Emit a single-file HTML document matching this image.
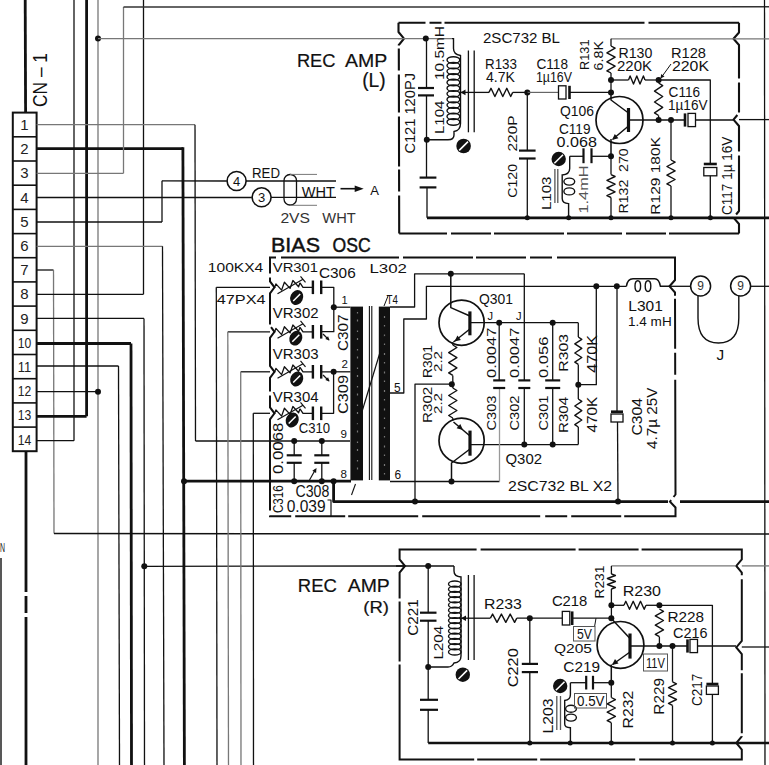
<!DOCTYPE html>
<html><head><meta charset="utf-8"><style>
html,body{margin:0;padding:0;background:#fff;}
svg{display:block;}
text{font-family:"Liberation Sans",sans-serif;}
</style></head><body>
<svg width="769" height="765" viewBox="0 0 769 765">
<rect width="769" height="765" fill="#fff"/>
<line x1="25.2" y1="0.0" x2="25.6" y2="112.5" stroke="#111" stroke-width="2.8"/>
<line x1="26.0" y1="451.0" x2="26.0" y2="765.0" stroke="#111" stroke-width="2.8" stroke-dasharray="141 4 17 4 200"/>
<rect x="12.8" y="112.6" width="23.8" height="338.6" fill="#fff" stroke="#111" stroke-width="2"/>
<line x1="12.8" y1="136.8" x2="36.6" y2="136.8" stroke="#111" stroke-width="1.6"/>
<line x1="12.8" y1="161.0" x2="36.6" y2="161.0" stroke="#111" stroke-width="1.6"/>
<line x1="12.8" y1="185.2" x2="36.6" y2="185.2" stroke="#111" stroke-width="1.6"/>
<line x1="12.8" y1="209.4" x2="36.6" y2="209.4" stroke="#111" stroke-width="1.6"/>
<line x1="12.8" y1="233.6" x2="36.6" y2="233.6" stroke="#111" stroke-width="1.6"/>
<line x1="12.8" y1="257.7" x2="36.6" y2="257.7" stroke="#111" stroke-width="1.6"/>
<line x1="12.8" y1="281.9" x2="36.6" y2="281.9" stroke="#111" stroke-width="1.6"/>
<line x1="12.8" y1="306.1" x2="36.6" y2="306.1" stroke="#111" stroke-width="1.6"/>
<line x1="12.8" y1="330.3" x2="36.6" y2="330.3" stroke="#111" stroke-width="1.6"/>
<line x1="12.8" y1="354.5" x2="36.6" y2="354.5" stroke="#111" stroke-width="1.6"/>
<line x1="12.8" y1="378.7" x2="36.6" y2="378.7" stroke="#111" stroke-width="1.6"/>
<line x1="12.8" y1="402.9" x2="36.6" y2="402.9" stroke="#111" stroke-width="1.6"/>
<line x1="12.8" y1="427.1" x2="36.6" y2="427.1" stroke="#111" stroke-width="1.6"/>
<text x="24.5" y="130.0" font-size="15" text-anchor="middle" fill="#222">1</text>
<text x="24.5" y="154.2" font-size="15" text-anchor="middle" fill="#222">2</text>
<text x="24.5" y="178.4" font-size="15" text-anchor="middle" fill="#222">3</text>
<text x="24.5" y="202.6" font-size="15" text-anchor="middle" fill="#222">4</text>
<text x="24.5" y="226.8" font-size="15" text-anchor="middle" fill="#222">5</text>
<text x="24.5" y="250.9" font-size="15" text-anchor="middle" fill="#222">6</text>
<text x="24.5" y="275.1" font-size="15" text-anchor="middle" fill="#222">7</text>
<text x="24.5" y="299.3" font-size="15" text-anchor="middle" fill="#222">8</text>
<text x="24.5" y="323.5" font-size="15" text-anchor="middle" fill="#222">9</text>
<text x="24.5" y="347.7" font-size="15" text-anchor="middle" fill="#222" textLength="13.5" lengthAdjust="spacingAndGlyphs">10</text>
<text x="24.5" y="371.9" font-size="15" text-anchor="middle" fill="#222" textLength="13.5" lengthAdjust="spacingAndGlyphs">11</text>
<text x="24.5" y="396.1" font-size="15" text-anchor="middle" fill="#222" textLength="13.5" lengthAdjust="spacingAndGlyphs">12</text>
<text x="24.5" y="420.3" font-size="15" text-anchor="middle" fill="#222" textLength="13.5" lengthAdjust="spacingAndGlyphs">13</text>
<text x="24.5" y="444.5" font-size="15" text-anchor="middle" fill="#222" textLength="13.5" lengthAdjust="spacingAndGlyphs">14</text>
<text transform="translate(47.0,107.0) rotate(-90)" x="0" y="0" font-size="19.55" fill="#111" textLength="54.0" lengthAdjust="spacingAndGlyphs">CN&#160;–&#160;1</text>
<line x1="74.0" y1="0.0" x2="74.0" y2="440.7" stroke="#111" stroke-width="1.3"/>
<line x1="86.6" y1="0.0" x2="86.6" y2="416.3" stroke="#111" stroke-width="2.8"/>
<line x1="98.0" y1="0.0" x2="98.0" y2="765.0" stroke="#777" stroke-width="1.3"/>
<circle cx="98.0" cy="38.6" r="3.0" fill="#111"/>
<circle cx="98.0" cy="391.7" r="3.0" fill="#111"/>
<line x1="143.5" y1="0.0" x2="143.5" y2="294.3" stroke="#111" stroke-width="1.3"/>
<line x1="36.6" y1="124.7" x2="195.0" y2="124.7" stroke="#777" stroke-width="1.3"/>
<line x1="195.0" y1="124.7" x2="195.5" y2="441.0" stroke="#111" stroke-width="1.3"/>
<line x1="195.5" y1="441.0" x2="350.0" y2="441.0" stroke="#111" stroke-width="1.3"/>
<line x1="36.6" y1="148.6" x2="183.0" y2="148.6" stroke="#111" stroke-width="2.8"/>
<line x1="182.9" y1="147.2" x2="184.4" y2="765.0" stroke="#111" stroke-width="2.8"/>
<line x1="36.6" y1="173.3" x2="123.5" y2="173.3" stroke="#777" stroke-width="1.3"/>
<line x1="123.5" y1="173.3" x2="123.5" y2="7.0" stroke="#777" stroke-width="1.3"/>
<line x1="123.5" y1="7.0" x2="769.0" y2="6.8" stroke="#333" stroke-width="1.5"/>
<line x1="36.6" y1="197.5" x2="251.8" y2="197.5" stroke="#111" stroke-width="1.3"/>
<line x1="36.6" y1="222.0" x2="162.0" y2="222.0" stroke="#111" stroke-width="1.5"/>
<line x1="162.0" y1="222.0" x2="162.0" y2="180.8" stroke="#111" stroke-width="1.3"/>
<line x1="162.0" y1="180.8" x2="226.8" y2="181.0" stroke="#111" stroke-width="1.3"/>
<line x1="36.6" y1="246.3" x2="162.5" y2="246.3" stroke="#777" stroke-width="1.3"/>
<line x1="162.5" y1="246.3" x2="164.0" y2="765.0" stroke="#111" stroke-width="1.3"/>
<line x1="36.6" y1="270.0" x2="53.5" y2="270.0" stroke="#111" stroke-width="1.3"/>
<line x1="53.5" y1="270.0" x2="54.0" y2="533.6" stroke="#777" stroke-width="1.3"/>
<line x1="54.0" y1="533.6" x2="769.0" y2="534.0" stroke="#111" stroke-width="1.5"/>
<line x1="36.6" y1="294.3" x2="143.5" y2="294.3" stroke="#111" stroke-width="1.3"/>
<line x1="36.6" y1="318.4" x2="144.0" y2="318.4" stroke="#111" stroke-width="1.3"/>
<line x1="144.0" y1="318.4" x2="144.5" y2="765.0" stroke="#111" stroke-width="1.3"/>
<circle cx="144.3" cy="566.3" r="3.0" fill="#111"/>
<line x1="36.6" y1="343.5" x2="131.0" y2="343.5" stroke="#111" stroke-width="2.8"/>
<line x1="131.0" y1="343.5" x2="131.5" y2="765.0" stroke="#111" stroke-width="2.8"/>
<line x1="36.6" y1="366.0" x2="118.5" y2="366.0" stroke="#111" stroke-width="1.3"/>
<line x1="118.5" y1="366.0" x2="119.5" y2="765.0" stroke="#111" stroke-width="1.3"/>
<line x1="36.6" y1="391.7" x2="98.0" y2="391.7" stroke="#111" stroke-width="1.3"/>
<line x1="36.6" y1="416.3" x2="86.6" y2="416.3" stroke="#111" stroke-width="2.8"/>
<line x1="36.6" y1="440.7" x2="74.0" y2="440.7" stroke="#111" stroke-width="1.3"/>
<line x1="1.0" y1="558.0" x2="1.0" y2="765.0" stroke="#111" stroke-width="1.4"/>
<text x="0.0" y="552.0" font-size="12.57" fill="#111" textLength="5.0" lengthAdjust="spacingAndGlyphs">N</text>
<line x1="98.0" y1="38.6" x2="404.0" y2="38.6" stroke="#777" stroke-width="1.3"/>
<line x1="144.3" y1="566.3" x2="405.0" y2="566.0" stroke="#111" stroke-width="1.3"/>
<line x1="216.3" y1="287.3" x2="270.0" y2="287.3" stroke="#111" stroke-width="1.3"/>
<line x1="216.3" y1="287.3" x2="217.0" y2="765.0" stroke="#111" stroke-width="1.3"/>
<line x1="227.8" y1="331.8" x2="270.0" y2="331.8" stroke="#111" stroke-width="1.3"/>
<line x1="227.8" y1="331.8" x2="228.5" y2="765.0" stroke="#777" stroke-width="1.3"/>
<line x1="240.7" y1="371.8" x2="270.0" y2="371.8" stroke="#111" stroke-width="1.3"/>
<line x1="240.7" y1="371.8" x2="241.0" y2="765.0" stroke="#777" stroke-width="1.3"/>
<line x1="253.3" y1="413.3" x2="270.0" y2="413.3" stroke="#111" stroke-width="1.3"/>
<line x1="253.3" y1="413.3" x2="253.5" y2="765.0" stroke="#111" stroke-width="1.3"/>
<circle cx="184.0" cy="481.2" r="3.0" fill="#111"/>
<line x1="184.0" y1="481.2" x2="351.0" y2="481.2" stroke="#111" stroke-width="2.8"/>
<line x1="764.5" y1="0.0" x2="765.0" y2="765.0" stroke="#111" stroke-width="1.3"/>
<circle cx="236.6" cy="181.0" r="9.5" fill="none" stroke="#111" stroke-width="1.6"/>
<circle cx="261.6" cy="197.3" r="9.5" fill="none" stroke="#111" stroke-width="1.6"/>
<text x="236.6" y="185.8" font-size="13" text-anchor="middle" fill="#111">4</text>
<text x="261.6" y="202" font-size="13" text-anchor="middle" fill="#111">3</text>
<line x1="246.0" y1="181.0" x2="336.0" y2="181.0" stroke="#111" stroke-width="1.3"/>
<line x1="271.0" y1="197.3" x2="336.0" y2="197.3" stroke="#111" stroke-width="1.3"/>
<rect x="284" y="174.5" width="12.5" height="30.5" rx="6" fill="none" stroke="#111" stroke-width="1.3"/>
<line x1="290.0" y1="174.4" x2="317.0" y2="174.4" stroke="#777" stroke-width="1"/>
<line x1="290.0" y1="205.3" x2="317.0" y2="205.3" stroke="#777" stroke-width="1"/>
<text x="252.0" y="177.8" font-size="13.97" fill="#111" textLength="28.0" lengthAdjust="spacingAndGlyphs">RED</text>
<text x="301.8" y="196.6" font-size="14.11" fill="#111" textLength="33.2" lengthAdjust="spacingAndGlyphs">WHT</text>
<line x1="340.5" y1="188.7" x2="355.0" y2="188.7" stroke="#111" stroke-width="1.6"/>
<polygon points="363.7,188.7 354.7,191.9 354.7,185.5" fill="#111"/>
<text x="370.3" y="194.6" font-size="12.85" fill="#111" textLength="8.7" lengthAdjust="spacingAndGlyphs">A</text>
<text x="280.4" y="222.6" font-size="14.80" fill="#333" textLength="29.6" lengthAdjust="spacingAndGlyphs">2VS</text>
<text x="322.3" y="222.6" font-size="14.80" fill="#333" textLength="33.4" lengthAdjust="spacingAndGlyphs">WHT</text>
<text x="271.0" y="252.0" font-size="19.83" fill="#111" stroke="#111" stroke-width="0.45" textLength="49.0" lengthAdjust="spacingAndGlyphs">BIAS</text>
<text x="332.6" y="252.0" font-size="19.83" fill="#111" stroke="#111" stroke-width="0.45" textLength="38.1" lengthAdjust="spacingAndGlyphs">OSC</text>
<text x="296.9" y="67.2" font-size="18.99" fill="#111" stroke="#111" stroke-width="0.2" textLength="38.6" lengthAdjust="spacingAndGlyphs">REC</text>
<text x="345.0" y="67.2" font-size="18.99" fill="#111" stroke="#111" stroke-width="0.2" textLength="42.3" lengthAdjust="spacingAndGlyphs">AMP</text>
<text x="362.2" y="86.5" font-size="19.55" fill="#111" stroke="#111" stroke-width="0.2" textLength="23.4" lengthAdjust="spacingAndGlyphs">(L)</text>
<path d="M399.2,233.5 L398.8,45 L404,38.6 L398.5,32 L398.5,22.7" fill="none" stroke="#111" stroke-width="2.1" stroke-linejoin="round" stroke-dasharray="38 4 22 3 50 4"/>
<path d="M398.5,22.7 L739,22.7" fill="none" stroke="#111" stroke-width="2.1" stroke-linejoin="round" stroke-dasharray="27 4 12 3 200 4 300"/>
<path d="M739,22.7 L739,32.5 L733.5,38.8 L739,45 L739,113 L733.5,119.6 L739,126 L739,211 L733.5,217.6 L739,224 L739,233.5" fill="none" stroke="#111" stroke-width="2.1" stroke-linejoin="round" stroke-dasharray="60 4 30 3 40 4"/>
<path d="M739,233.5 L399.2,233.5" fill="none" stroke="#111" stroke-width="2.1" stroke-linejoin="round" stroke-dasharray="70 3 40 4 55 3"/>
<line x1="398.0" y1="38.6" x2="452.0" y2="38.6" stroke="#777" stroke-width="1.3"/>
<circle cx="425.8" cy="38.6" r="3.0" fill="#111"/>
<path d="M452,38.6 L453.5,38.6 L453.5,48.5 Q453.5,54.5 460.5,55.5 L460.5,123.5 Q460.5,130.5 454,131.5 L454,135 Q454,139.8 448,139.8 L426.8,139.8" fill="none" stroke="#111" stroke-width="1.4"/>
<ellipse cx="453.4" cy="60.0" rx="6.4" ry="3.2" fill="none" stroke="#111" stroke-width="1.4"/>
<ellipse cx="453.4" cy="65.6" rx="6.4" ry="3.2" fill="none" stroke="#111" stroke-width="1.4"/>
<ellipse cx="453.4" cy="71.3" rx="6.4" ry="3.2" fill="none" stroke="#111" stroke-width="1.4"/>
<ellipse cx="453.4" cy="76.9" rx="6.4" ry="3.2" fill="none" stroke="#111" stroke-width="1.4"/>
<ellipse cx="453.4" cy="82.5" rx="6.4" ry="3.2" fill="none" stroke="#111" stroke-width="1.4"/>
<ellipse cx="453.4" cy="88.2" rx="6.4" ry="3.2" fill="none" stroke="#111" stroke-width="1.4"/>
<ellipse cx="453.4" cy="93.8" rx="6.4" ry="3.2" fill="none" stroke="#111" stroke-width="1.4"/>
<ellipse cx="453.4" cy="99.5" rx="6.4" ry="3.2" fill="none" stroke="#111" stroke-width="1.4"/>
<ellipse cx="453.4" cy="105.1" rx="6.4" ry="3.2" fill="none" stroke="#111" stroke-width="1.4"/>
<ellipse cx="453.4" cy="110.7" rx="6.4" ry="3.2" fill="none" stroke="#111" stroke-width="1.4"/>
<ellipse cx="453.4" cy="116.4" rx="6.4" ry="3.2" fill="none" stroke="#111" stroke-width="1.4"/>
<ellipse cx="453.4" cy="122.0" rx="6.4" ry="3.2" fill="none" stroke="#111" stroke-width="1.4"/>
<line x1="468.4" y1="50.5" x2="468.4" y2="132.3" stroke="#111" stroke-width="1.3"/>
<line x1="474.2" y1="50.5" x2="474.2" y2="132.3" stroke="#111" stroke-width="1.3"/>
<line x1="459.0" y1="92.4" x2="489.0" y2="92.4" stroke="#111" stroke-width="1.3"/>
<polygon points="460.5,92.4 465.5,89.6 465.5,95.2" fill="#111"/>
<circle cx="463.6" cy="146.0" r="7.3" fill="#111"/>
<line x1="459.2" y1="150.4" x2="468.0" y2="141.6" stroke="#fff" stroke-width="1.6"/>
<text transform="translate(443.5,80.0) rotate(-90)" x="0" y="0" font-size="13.27" fill="#111" textLength="54.0" lengthAdjust="spacingAndGlyphs">10.5mH</text>
<text transform="translate(443.5,134.0) rotate(-90)" x="0" y="0" font-size="12.57" fill="#111" textLength="33.5" lengthAdjust="spacingAndGlyphs">L104</text>
<text transform="translate(415.0,153.6) rotate(-90)" x="0" y="0" font-size="15.36" fill="#111" textLength="80.6" lengthAdjust="spacingAndGlyphs">C121&#160;120PJ</text>
<line x1="426.5" y1="38.6" x2="426.5" y2="88.0" stroke="#111" stroke-width="1.3"/>
<line x1="418.0" y1="88.0" x2="434.0" y2="88.0" stroke="#111" stroke-width="2.2"/>
<line x1="418.0" y1="95.4" x2="434.0" y2="95.4" stroke="#111" stroke-width="2.2"/>
<line x1="426.5" y1="95.4" x2="426.5" y2="177.6" stroke="#111" stroke-width="1.3"/>
<circle cx="426.8" cy="139.8" r="3.0" fill="#111"/>
<line x1="419.6" y1="177.6" x2="436.4" y2="177.6" stroke="#111" stroke-width="2.2"/>
<line x1="419.6" y1="187.4" x2="436.4" y2="187.4" stroke="#111" stroke-width="2.2"/>
<line x1="427.0" y1="187.4" x2="427.0" y2="217.8" stroke="#111" stroke-width="1.3"/>
<line x1="427.0" y1="217.8" x2="769.0" y2="217.8" stroke="#111" stroke-width="2.8"/>
<circle cx="527.3" cy="217.8" r="2.5" fill="#111"/>
<circle cx="568.7" cy="217.8" r="2.5" fill="#111"/>
<circle cx="611.0" cy="217.8" r="2.5" fill="#111"/>
<circle cx="671.0" cy="217.8" r="2.5" fill="#111"/>
<circle cx="710.4" cy="217.8" r="2.5" fill="#111"/>
<polyline points="489.0,92.4 491.0,88.3 494.9,96.5 498.9,88.3 502.8,96.5 506.8,88.3 510.7,96.5 512.7,92.4" fill="none" stroke="#111" stroke-width="1.4" stroke-linejoin="round"/>
<line x1="512.7" y1="92.4" x2="527.3" y2="92.4" stroke="#111" stroke-width="1.3"/>
<circle cx="527.3" cy="92.4" r="3.0" fill="#111"/>
<line x1="527.3" y1="92.4" x2="559.0" y2="92.4" stroke="#666" stroke-width="1.2"/>
<rect x="558.5" y="85.8" width="7.5" height="13.2" fill="#fff" stroke="#111" stroke-width="1.3"/>
<line x1="569.5" y1="85.8" x2="569.5" y2="99.0" stroke="#111" stroke-width="2.6"/>
<line x1="569.0" y1="92.4" x2="611.0" y2="92.4" stroke="#111" stroke-width="1.3"/>
<text x="485.0" y="69.0" font-size="15.36" fill="#111" textLength="32.0" lengthAdjust="spacingAndGlyphs">R133</text>
<text x="486.0" y="81.6" font-size="14.80" fill="#111" textLength="29.0" lengthAdjust="spacingAndGlyphs">4.7K</text>
<text x="536.5" y="69.0" font-size="15.36" fill="#111" textLength="31.5" lengthAdjust="spacingAndGlyphs">C118</text>
<text x="536.0" y="82.0" font-size="15.36" fill="#111" textLength="36.0" lengthAdjust="spacingAndGlyphs">1µ16V</text>
<text x="483.0" y="42.7" font-size="14.94" fill="#111" textLength="77.0" lengthAdjust="spacingAndGlyphs">2SC732 BL</text>
<line x1="527.3" y1="92.4" x2="527.3" y2="150.6" stroke="#111" stroke-width="1.3"/>
<line x1="519.0" y1="150.6" x2="535.6" y2="150.6" stroke="#111" stroke-width="2.2"/>
<line x1="519.0" y1="158.5" x2="535.6" y2="158.5" stroke="#111" stroke-width="2.2"/>
<line x1="527.3" y1="158.5" x2="527.3" y2="217.8" stroke="#111" stroke-width="1.3"/>
<text transform="translate(516.5,151.5) rotate(-90)" x="0" y="0" font-size="12.57" fill="#111" textLength="36.0" lengthAdjust="spacingAndGlyphs">220P</text>
<text transform="translate(516.8,197.8) rotate(-90)" x="0" y="0" font-size="13.69" fill="#111" textLength="33.8" lengthAdjust="spacingAndGlyphs">C120</text>
<circle cx="619.5" cy="120.0" r="23.5" fill="none" stroke="#111" stroke-width="1.7"/>
<line x1="628.5" y1="108.0" x2="628.5" y2="132.0" stroke="#111" stroke-width="3.2"/>
<polyline points="628.5,113.0 611.0,100.0 611.0,92.4" fill="none" stroke="#111" stroke-width="1.5" stroke-linejoin="round"/>
<line x1="628.5" y1="126.0" x2="613.0" y2="139.0" stroke="#111" stroke-width="1.5"/>
<polygon points="612.0,140.0 614.8,134.0 618.4,138.2" fill="#111"/>
<line x1="611.0" y1="139.0" x2="611.0" y2="156.3" stroke="#111" stroke-width="1.5"/>
<circle cx="611.0" cy="92.4" r="3.0" fill="#111"/>
<circle cx="611.0" cy="156.3" r="3.0" fill="#111"/>
<text x="560.0" y="115.5" font-size="14.66" fill="#111" textLength="34.0" lengthAdjust="spacingAndGlyphs">Q106</text>
<line x1="611.0" y1="38.8" x2="769.0" y2="38.8" stroke="#777" stroke-width="1.3"/>
<line x1="611.0" y1="38.8" x2="611.0" y2="46.0" stroke="#111" stroke-width="1.3"/>
<polyline points="611.0,46.0 615.1,48.2 606.9,52.8 615.1,57.2 606.9,61.8 615.1,66.2 606.9,70.8 611.0,73.0" fill="none" stroke="#111" stroke-width="1.4" stroke-linejoin="round"/>
<line x1="611.0" y1="73.0" x2="611.0" y2="92.4" stroke="#111" stroke-width="1.3"/>
<circle cx="611.0" cy="80.0" r="3.0" fill="#111"/>
<text transform="translate(588.5,70.0) rotate(-90)" x="0" y="0" font-size="11.87" fill="#111" textLength="30.5" lengthAdjust="spacingAndGlyphs">R131</text>
<text transform="translate(603.0,70.5) rotate(-90)" x="0" y="0" font-size="12.57" fill="#111" textLength="29.5" lengthAdjust="spacingAndGlyphs">6.8K</text>
<line x1="611.0" y1="80.0" x2="628.5" y2="80.0" stroke="#111" stroke-width="1.3"/>
<polyline points="628.5,80.0 630.1,76.0 633.5,84.0 636.8,76.0 640.0,84.0 643.4,76.0 645.0,80.0" fill="none" stroke="#111" stroke-width="1.4" stroke-linejoin="round"/>
<line x1="645.0" y1="80.0" x2="658.6" y2="80.0" stroke="#111" stroke-width="1.3"/>
<circle cx="658.6" cy="80.0" r="3.0" fill="#111"/>
<polyline points="658.6,80.0 710.3,80.0 710.3,164.0" fill="none" stroke="#111" stroke-width="1.3" stroke-linejoin="round"/>
<text x="618.4" y="57.7" font-size="13.97" fill="#111" textLength="33.9" lengthAdjust="spacingAndGlyphs">R130</text>
<text x="617.0" y="71.0" font-size="13.97" fill="#111" textLength="35.0" lengthAdjust="spacingAndGlyphs">220K</text>
<text x="671.0" y="57.7" font-size="13.97" fill="#111" textLength="35.0" lengthAdjust="spacingAndGlyphs">R128</text>
<text x="672.0" y="71.0" font-size="13.97" fill="#111" textLength="37.0" lengthAdjust="spacingAndGlyphs">220K</text>
<line x1="671.0" y1="64.0" x2="662.0" y2="76.5" stroke="#111" stroke-width="1"/>
<polygon points="660.5,78.5 661.2,74.1 664.5,76.4" fill="#111"/>
<polyline points="658.6,83.0 662.7,85.7 654.5,91.1 662.7,96.5 654.5,102.0 662.7,107.4 654.5,112.8 658.6,115.5" fill="none" stroke="#111" stroke-width="1.4" stroke-linejoin="round"/>
<line x1="658.6" y1="80.0" x2="658.6" y2="83.0" stroke="#111" stroke-width="1.3"/>
<line x1="658.6" y1="115.5" x2="658.6" y2="120.0" stroke="#111" stroke-width="1.3"/>
<circle cx="658.6" cy="120.0" r="3.0" fill="#111"/>
<line x1="628.5" y1="120.0" x2="685.0" y2="120.0" stroke="#111" stroke-width="1.3"/>
<circle cx="671.0" cy="120.0" r="3.0" fill="#111"/>
<rect x="688.0" y="113.4" width="7.5" height="13.2" fill="#fff" stroke="#111" stroke-width="1.3"/>
<line x1="685.0" y1="113.4" x2="685.0" y2="126.6" stroke="#111" stroke-width="2.6"/>
<line x1="695.0" y1="120.0" x2="733.0" y2="120.0" stroke="#111" stroke-width="1.3"/>
<line x1="739.0" y1="119.6" x2="769.0" y2="119.6" stroke="#111" stroke-width="1.3"/>
<text x="668.6" y="96.6" font-size="13.97" fill="#111" textLength="31.4" lengthAdjust="spacingAndGlyphs">C116</text>
<text x="668.0" y="110.0" font-size="13.97" fill="#111" textLength="39.5" lengthAdjust="spacingAndGlyphs">1µ16V</text>
<line x1="671.0" y1="120.0" x2="671.0" y2="160.0" stroke="#111" stroke-width="1.3"/>
<polyline points="671.0,160.0 675.1,162.2 666.9,166.5 675.1,170.8 666.9,175.2 675.1,179.5 666.9,183.8 671.0,186.0" fill="none" stroke="#111" stroke-width="1.4" stroke-linejoin="round"/>
<line x1="671.0" y1="186.0" x2="671.0" y2="217.8" stroke="#111" stroke-width="1.3"/>
<text transform="translate(660.0,214.7) rotate(-90)" x="0" y="0" font-size="12.57" fill="#111" textLength="77.7" lengthAdjust="spacingAndGlyphs">R129&#160;180K</text>
<line x1="703.8" y1="164.0" x2="716.8" y2="164.0" stroke="#111" stroke-width="2.6"/>
<rect x="703.8" y="167.5" width="13.0" height="8.3" fill="#fff" stroke="#111" stroke-width="1.3"/>
<line x1="710.3" y1="175.8" x2="710.3" y2="217.8" stroke="#111" stroke-width="1.3"/>
<text transform="translate(732.0,215.0) rotate(-90)" x="0" y="0" font-size="14.80" fill="#111" textLength="78.4" lengthAdjust="spacingAndGlyphs">C117&#160;1µ&#160;16V</text>
<polyline points="611.0,174.6 615.1,176.5 606.9,180.3 615.1,184.1 606.9,188.0 615.1,191.8 606.9,195.6 611.0,197.5" fill="none" stroke="#111" stroke-width="1.4" stroke-linejoin="round"/>
<line x1="611.0" y1="156.3" x2="611.0" y2="174.6" stroke="#111" stroke-width="1.3"/>
<line x1="611.0" y1="197.5" x2="611.0" y2="217.8" stroke="#111" stroke-width="1.3"/>
<text transform="translate(628.0,213.5) rotate(-90)" x="0" y="0" font-size="12.57" fill="#111" textLength="65.2" lengthAdjust="spacingAndGlyphs">R132&#160;&#160;270</text>
<line x1="611.0" y1="156.3" x2="591.5" y2="156.3" stroke="#111" stroke-width="1.3"/>
<line x1="591.5" y1="148.3" x2="591.5" y2="163.2" stroke="#111" stroke-width="2.2"/>
<line x1="583.5" y1="148.3" x2="583.5" y2="163.2" stroke="#111" stroke-width="2.2"/>
<polyline points="583.5,156.3 569.7,156.3" fill="none" stroke="#111" stroke-width="1.3" stroke-linejoin="round"/>
<path d="M569.7,156.3 L569.7,168.6 Q569.7,174.5 562.2,175 L562.2,198.5 Q562.2,203.4 568.6,203.6 L568.6,217.8" fill="none" stroke="#111" stroke-width="1.4"/>
<ellipse cx="569.3" cy="181.6" rx="5.4" ry="3.5" fill="none" stroke="#111" stroke-width="1.4"/>
<ellipse cx="569.3" cy="191.4" rx="5.4" ry="3.5" fill="none" stroke="#111" stroke-width="1.4"/>
<text x="559.0" y="134.0" font-size="13.97" fill="#111" textLength="31.5" lengthAdjust="spacingAndGlyphs">C119</text>
<text x="556.6" y="147.0" font-size="13.97" fill="#111" textLength="40.4" lengthAdjust="spacingAndGlyphs">0.068</text>
<line x1="554.9" y1="169.0" x2="554.9" y2="203.0" stroke="#555" stroke-width="1.3"/>
<line x1="557.8" y1="169.0" x2="557.8" y2="203.0" stroke="#555" stroke-width="1.3"/>
<circle cx="558.7" cy="159.0" r="7.2" fill="#111"/>
<line x1="554.4" y1="163.3" x2="563.0" y2="154.7" stroke="#fff" stroke-width="1.6"/>
<text transform="translate(588.0,213.5) rotate(-90)" x="0" y="0" font-size="12.57" fill="#555" textLength="48.0" lengthAdjust="spacingAndGlyphs">1.4mH</text>
<text transform="translate(550.6,210.0) rotate(-90)" x="0" y="0" font-size="12.01" fill="#111" textLength="33.5" lengthAdjust="spacingAndGlyphs">L103</text>
<path d="M675,257.5 L270,257.5 L270,281.3 L274.5,287.3 L270,293.3 L270,325.8 L274.5,331.8 L270,337.8 L270,365.8 L274.5,371.8 L270,377.8 L270,407.3 L274.5,413.3 L270,419.3 L270,516.3 L675.5,516.3 L675.5,507.5 L670,501.6 L675.5,494.5 L675,292.5 L669.5,286.3 L675,280 Z" fill="none" stroke="#111" stroke-width="2.0" stroke-dasharray="118 5 22 4 50 3 70 4"/>
<text x="207.8" y="272.2" font-size="12.43" fill="#111" textLength="55.5" lengthAdjust="spacingAndGlyphs">100KX4</text>
<text x="216.7" y="304.4" font-size="12.29" fill="#111" textLength="48.9" lengthAdjust="spacingAndGlyphs">47PX4</text>
<text x="272.8" y="272.3" font-size="12.57" fill="#111" textLength="45.2" lengthAdjust="spacingAndGlyphs">VR301</text>
<text x="319.0" y="278.0" font-size="13.97" fill="#111" textLength="36.7" lengthAdjust="spacingAndGlyphs">C306</text>
<text x="369.5" y="273.0" font-size="12.57" fill="#111" textLength="37.5" lengthAdjust="spacingAndGlyphs">L302</text>
<text x="272.8" y="317.6" font-size="14.53" fill="#111" textLength="45.8" lengthAdjust="spacingAndGlyphs">VR302</text>
<text x="272.8" y="359.4" font-size="14.53" fill="#111" textLength="45.8" lengthAdjust="spacingAndGlyphs">VR303</text>
<text x="272.8" y="401.6" font-size="14.53" fill="#111" textLength="45.8" lengthAdjust="spacingAndGlyphs">VR304</text>
<polyline points="274.5,287.8 275.9,283.9 281.6,290.1 284.4,282.2 290.1,288.4 292.9,280.5 298.6,286.7 300.0,282.8" fill="none" stroke="#111" stroke-width="1.3" stroke-linejoin="round"/>
<polyline points="300.0,282.8 303.0,287.3 312.9,287.3" fill="none" stroke="#111" stroke-width="1.3" stroke-linejoin="round"/>
<line x1="277.5" y1="293.8" x2="303.0" y2="279.3" stroke="#111" stroke-width="1.2"/>
<line x1="300.5" y1="276.3" x2="305.5" y2="282.3" stroke="#111" stroke-width="1.2"/>
<ellipse cx="296.7" cy="297.5" rx="6.3" ry="7.6" transform="rotate(25 296.7 297.5)" fill="#111"/>
<line x1="293.2" y1="301.0" x2="300.2" y2="294.0" stroke="#fff" stroke-width="1.5"/>
<line x1="312.9" y1="280.5" x2="312.9" y2="294.1" stroke="#111" stroke-width="2.4"/>
<line x1="321.2" y1="280.5" x2="321.2" y2="294.1" stroke="#111" stroke-width="2.4"/>
<polyline points="274.5,332.3 275.9,328.4 281.6,334.6 284.4,326.7 290.1,332.9 292.9,325.0 298.6,331.2 300.0,327.3" fill="none" stroke="#111" stroke-width="1.3" stroke-linejoin="round"/>
<polyline points="300.0,327.3 303.0,331.8 312.9,331.8" fill="none" stroke="#111" stroke-width="1.3" stroke-linejoin="round"/>
<line x1="277.5" y1="338.3" x2="303.0" y2="323.8" stroke="#111" stroke-width="1.2"/>
<line x1="300.5" y1="320.8" x2="305.5" y2="326.8" stroke="#111" stroke-width="1.2"/>
<ellipse cx="295.8" cy="338.2" rx="6.3" ry="7.6" transform="rotate(25 295.8 338.2)" fill="#111"/>
<line x1="292.3" y1="341.7" x2="299.3" y2="334.7" stroke="#fff" stroke-width="1.5"/>
<line x1="312.9" y1="325.0" x2="312.9" y2="338.6" stroke="#111" stroke-width="2.4"/>
<line x1="321.2" y1="325.0" x2="321.2" y2="338.6" stroke="#111" stroke-width="2.4"/>
<polyline points="274.5,372.3 275.9,368.4 281.6,374.6 284.4,366.7 290.1,372.9 292.9,365.0 298.6,371.2 300.0,367.3" fill="none" stroke="#111" stroke-width="1.3" stroke-linejoin="round"/>
<polyline points="300.0,367.3 303.0,371.8 312.9,371.8" fill="none" stroke="#111" stroke-width="1.3" stroke-linejoin="round"/>
<line x1="277.5" y1="378.3" x2="303.0" y2="363.8" stroke="#111" stroke-width="1.2"/>
<line x1="300.5" y1="360.8" x2="305.5" y2="366.8" stroke="#111" stroke-width="1.2"/>
<ellipse cx="296.7" cy="379" rx="6.3" ry="7.6" transform="rotate(25 296.7 379)" fill="#111"/>
<line x1="293.2" y1="382.5" x2="300.2" y2="375.5" stroke="#fff" stroke-width="1.5"/>
<line x1="312.9" y1="365.0" x2="312.9" y2="378.6" stroke="#111" stroke-width="2.4"/>
<line x1="321.2" y1="365.0" x2="321.2" y2="378.6" stroke="#111" stroke-width="2.4"/>
<polyline points="274.5,413.8 275.9,409.9 281.6,416.1 284.4,408.2 290.1,414.4 292.9,406.5 298.6,412.7 300.0,408.8" fill="none" stroke="#111" stroke-width="1.3" stroke-linejoin="round"/>
<polyline points="300.0,408.8 303.0,413.3 312.9,413.3" fill="none" stroke="#111" stroke-width="1.3" stroke-linejoin="round"/>
<line x1="277.5" y1="419.8" x2="303.0" y2="405.3" stroke="#111" stroke-width="1.2"/>
<line x1="300.5" y1="402.3" x2="305.5" y2="408.3" stroke="#111" stroke-width="1.2"/>
<ellipse cx="292.2" cy="420" rx="6.3" ry="7.6" transform="rotate(25 292.2 420)" fill="#111"/>
<line x1="288.7" y1="423.5" x2="295.7" y2="416.5" stroke="#fff" stroke-width="1.5"/>
<line x1="312.9" y1="406.5" x2="312.9" y2="420.1" stroke="#111" stroke-width="2.4"/>
<line x1="321.2" y1="406.5" x2="321.2" y2="420.1" stroke="#111" stroke-width="2.4"/>
<polyline points="321.2,287.3 333.8,287.3 333.8,331.7 321.2,331.7" fill="none" stroke="#111" stroke-width="1.3" stroke-linejoin="round"/>
<circle cx="333.8" cy="307.2" r="3.0" fill="#111"/>
<line x1="333.8" y1="307.2" x2="350.4" y2="307.2" stroke="#111" stroke-width="1.3"/>
<polyline points="321.2,371.8 333.6,371.8 333.6,413.3 321.2,413.3" fill="none" stroke="#111" stroke-width="1.3" stroke-linejoin="round"/>
<circle cx="333.6" cy="371.8" r="3.0" fill="#111"/>
<line x1="333.6" y1="371.8" x2="350.4" y2="371.8" stroke="#111" stroke-width="1.3"/>
<line x1="323.0" y1="334.0" x2="329.0" y2="340.0" stroke="#111" stroke-width="1.2"/>
<polygon points="329.5,340.5 325.3,339.1 328.1,336.3" fill="#111"/>
<line x1="323.0" y1="375.0" x2="329.0" y2="381.0" stroke="#111" stroke-width="1.2"/>
<polygon points="329.5,381.5 325.3,380.1 328.1,377.3" fill="#111"/>
<text transform="translate(348.0,351.0) rotate(-90)" x="0" y="0" font-size="14.80" fill="#111" textLength="36.5" lengthAdjust="spacingAndGlyphs">C307</text>
<text transform="translate(348.0,414.0) rotate(-90)" x="0" y="0" font-size="14.80" fill="#111" textLength="39.0" lengthAdjust="spacingAndGlyphs">C309</text>
<text x="298.7" y="432.7" font-size="14.25" fill="#111" textLength="31.3" lengthAdjust="spacingAndGlyphs">C310</text>
<rect x="350.4" y="306.6" width="12.6" height="173.8" fill="#111"/>
<rect x="378.8" y="306.6" width="11.2" height="173.8" fill="#111"/>
<line x1="357.5" y1="312" x2="357.5" y2="476" stroke="#777" stroke-width="1.2" stroke-dasharray="1.5 6 2 9"/>
<line x1="384.5" y1="316" x2="384.5" y2="476" stroke="#777" stroke-width="1.2" stroke-dasharray="2 7 1.5 8"/>
<line x1="369.4" y1="306.0" x2="369.4" y2="480.0" stroke="#111" stroke-width="1.1"/>
<line x1="371.8" y1="306.0" x2="371.8" y2="480.0" stroke="#111" stroke-width="1.1"/>
<line x1="357.0" y1="428.0" x2="385.0" y2="336.0" stroke="#111" stroke-width="1.2"/>
<line x1="351.5" y1="495.0" x2="355.5" y2="484.0" stroke="#111" stroke-width="1.1"/>
<line x1="384.0" y1="306.0" x2="388.0" y2="296.0" stroke="#111" stroke-width="1.0"/>
<text x="341.5" y="304.0" font-size="11.17" fill="#111">1</text>
<text x="341.5" y="367.8" font-size="11.59" fill="#111">2</text>
<text x="340.5" y="437.8" font-size="11.59" fill="#111">9</text>
<text x="340.5" y="477.8" font-size="11.59" fill="#111">8</text>
<text x="386.6" y="303.5" font-size="11.87" fill="#111" textLength="11.4" lengthAdjust="spacingAndGlyphs">T4</text>
<text x="394.0" y="391.5" font-size="11.87" fill="#111">5</text>
<text x="394.5" y="478.5" font-size="11.87" fill="#111">6</text>
<polyline points="390.0,307.0 414.6,307.0 414.6,273.8 524.3,273.8" fill="none" stroke="#111" stroke-width="1.3" stroke-linejoin="round"/>
<circle cx="450.8" cy="273.8" r="3.0" fill="#111"/>
<polyline points="390.0,393.0 403.8,393.0 403.8,319.0 426.4,319.0 426.4,286.3 626.4,286.3" fill="none" stroke="#111" stroke-width="1.3" stroke-linejoin="round"/>
<path d="M626.4,286.3 Q627.5,278.8 633,278.8 L654.8,278.8 Q659,278.8 660.4,286.3 L669.5,286.3" fill="none" stroke="#111" stroke-width="1.4"/>
<line x1="669.5" y1="286.3" x2="690.6" y2="286.3" stroke="#111" stroke-width="1.3"/>
<circle cx="294.2" cy="441.0" r="3.0" fill="#111"/>
<circle cx="321.8" cy="441.0" r="3.0" fill="#111"/>
<line x1="294.2" y1="441.0" x2="294.2" y2="455.3" stroke="#111" stroke-width="1.3"/>
<line x1="286.7" y1="455.3" x2="301.7" y2="455.3" stroke="#111" stroke-width="2.2"/>
<line x1="286.7" y1="462.8" x2="301.7" y2="462.8" stroke="#111" stroke-width="2.2"/>
<line x1="294.2" y1="462.8" x2="294.2" y2="481.2" stroke="#111" stroke-width="1.3"/>
<circle cx="294.2" cy="481.2" r="3.0" fill="#111"/>
<line x1="321.8" y1="441.0" x2="321.8" y2="455.3" stroke="#111" stroke-width="1.3"/>
<line x1="314.3" y1="455.3" x2="329.3" y2="455.3" stroke="#111" stroke-width="2.2"/>
<line x1="314.3" y1="462.8" x2="329.3" y2="462.8" stroke="#111" stroke-width="2.2"/>
<line x1="321.8" y1="462.8" x2="321.8" y2="481.2" stroke="#111" stroke-width="1.3"/>
<circle cx="321.8" cy="481.2" r="3.0" fill="#111"/>
<line x1="309.5" y1="480.0" x2="315.5" y2="469.5" stroke="#111" stroke-width="1.2"/>
<polygon points="316.5,468.0 316.1,473.0 312.3,470.8" fill="#111"/>
<circle cx="333.6" cy="481.2" r="3.0" fill="#111"/>
<polyline points="333.6,481.2 333.6,501.6 668.0,501.6" fill="none" stroke="#111" stroke-width="2.8" stroke-linejoin="round"/>
<line x1="680.0" y1="501.6" x2="769.0" y2="501.6" stroke="#111" stroke-width="2.8"/>
<text transform="translate(283.0,474.0) rotate(-90)" x="0" y="0" font-size="13.97" fill="#111" textLength="51.3" lengthAdjust="spacingAndGlyphs">0.0068</text>
<text transform="translate(283.0,513.0) rotate(-90)" x="0" y="0" font-size="13.97" fill="#111" textLength="27.6" lengthAdjust="spacingAndGlyphs">C316</text>
<text x="295.5" y="496.7" font-size="15.78" fill="#111" textLength="33.8" lengthAdjust="spacingAndGlyphs">C308</text>
<text x="286.7" y="511.8" font-size="15.78" fill="#111" textLength="38.9" lengthAdjust="spacingAndGlyphs">0.039</text>
<polyline points="327.5,500.0 331.0,500.0 331.0,516.8" fill="none" stroke="#111" stroke-width="1.2" stroke-linejoin="round"/>
<circle cx="461.6" cy="322.7" r="22.6" fill="none" stroke="#111" stroke-width="1.7"/>
<line x1="469.9" y1="311.4" x2="469.9" y2="335.3" stroke="#111" stroke-width="3.2"/>
<polyline points="450.8,273.8 450.8,307.6 469.9,316.0" fill="none" stroke="#111" stroke-width="1.5" stroke-linejoin="round"/>
<line x1="469.9" y1="329.0" x2="453.5" y2="342.0" stroke="#111" stroke-width="1.5"/>
<polygon points="454.5,341.5 457.4,335.6 460.9,339.9" fill="#111"/>
<line x1="469.9" y1="322.7" x2="578.3" y2="322.7" stroke="#111" stroke-width="1.3"/>
<circle cx="499.2" cy="322.7" r="3.0" fill="#111"/>
<circle cx="552.7" cy="322.7" r="3.0" fill="#111"/>
<text x="479.0" y="303.9" font-size="14.11" fill="#111" textLength="34.0" lengthAdjust="spacingAndGlyphs">Q301</text>
<text x="487.5" y="319.5" font-size="11.17" fill="#111">J</text>
<text x="516.0" y="319.5" font-size="11.17" fill="#111">J</text>
<line x1="452.8" y1="342.0" x2="452.8" y2="345.0" stroke="#111" stroke-width="1.3"/>
<polyline points="452.8,345.0 456.9,347.5 448.7,352.6 456.9,357.7 448.7,362.7 456.9,367.8 448.7,372.9 452.8,375.4" fill="none" stroke="#111" stroke-width="1.4" stroke-linejoin="round"/>
<line x1="452.8" y1="375.4" x2="452.8" y2="388.0" stroke="#111" stroke-width="1.3"/>
<circle cx="451.8" cy="384.2" r="3.0" fill="#111"/>
<polyline points="452.8,388.0 456.9,390.5 448.7,395.5 456.9,400.5 448.7,405.5 456.9,410.5 448.7,415.5 452.8,418.0" fill="none" stroke="#111" stroke-width="1.4" stroke-linejoin="round"/>
<line x1="452.8" y1="418.0" x2="452.8" y2="421.0" stroke="#111" stroke-width="1.3"/>
<polyline points="451.8,384.2 415.0,384.2 415.0,501.6" fill="none" stroke="#111" stroke-width="1.3" stroke-linejoin="round"/>
<circle cx="415.0" cy="501.6" r="3.0" fill="#111"/>
<text transform="translate(431.5,378.0) rotate(-90)" x="0" y="0" font-size="12.29" fill="#111" textLength="33.0" lengthAdjust="spacingAndGlyphs">R301</text>
<text transform="translate(441.5,372.0) rotate(-90)" x="0" y="0" font-size="11.17" fill="#111" textLength="21.0" lengthAdjust="spacingAndGlyphs">2.2</text>
<text transform="translate(431.5,423.0) rotate(-90)" x="0" y="0" font-size="12.29" fill="#111" textLength="36.3" lengthAdjust="spacingAndGlyphs">R302</text>
<text transform="translate(441.5,414.0) rotate(-90)" x="0" y="0" font-size="11.17" fill="#111" textLength="21.0" lengthAdjust="spacingAndGlyphs">2.2</text>
<circle cx="461.6" cy="440.7" r="22.6" fill="none" stroke="#111" stroke-width="1.7"/>
<line x1="470.0" y1="430.6" x2="470.0" y2="455.7" stroke="#111" stroke-width="3.2"/>
<line x1="470.0" y1="436.0" x2="453.5" y2="422.0" stroke="#111" stroke-width="1.5"/>
<polygon points="463.0,430.0 456.6,428.2 460.3,423.9" fill="#111"/>
<polyline points="470.0,449.0 451.5,463.0 451.5,481.5" fill="none" stroke="#111" stroke-width="1.5" stroke-linejoin="round"/>
<line x1="470.0" y1="444.6" x2="578.3" y2="444.6" stroke="#111" stroke-width="1.3"/>
<circle cx="524.3" cy="444.6" r="3.0" fill="#111"/>
<circle cx="552.7" cy="444.6" r="3.0" fill="#111"/>
<polyline points="390.0,481.5 499.5,481.5" fill="none" stroke="#111" stroke-width="1.3" stroke-linejoin="round"/>
<circle cx="451.5" cy="481.5" r="3.0" fill="#111"/>
<line x1="499.5" y1="388.0" x2="499.5" y2="481.5" stroke="#999" stroke-width="1.3"/>
<text x="505.5" y="464.0" font-size="14.25" fill="#111" textLength="36.5" lengthAdjust="spacingAndGlyphs">Q302</text>
<text x="508.0" y="490.5" font-size="15.22" fill="#111" textLength="104.0" lengthAdjust="spacingAndGlyphs">2SC732 BL X2</text>
<line x1="493.2" y1="380.4" x2="505.2" y2="380.4" stroke="#111" stroke-width="2.2"/>
<line x1="493.2" y1="388.0" x2="505.2" y2="388.0" stroke="#111" stroke-width="2.2"/>
<line x1="518.3" y1="380.4" x2="530.3" y2="380.4" stroke="#111" stroke-width="2.2"/>
<line x1="518.3" y1="388.0" x2="530.3" y2="388.0" stroke="#111" stroke-width="2.2"/>
<line x1="545.2" y1="380.4" x2="560.2" y2="380.4" stroke="#111" stroke-width="2.2"/>
<line x1="545.2" y1="388.0" x2="560.2" y2="388.0" stroke="#111" stroke-width="2.2"/>
<line x1="499.2" y1="322.7" x2="499.2" y2="380.4" stroke="#111" stroke-width="1.3"/>
<line x1="524.3" y1="273.8" x2="524.3" y2="380.4" stroke="#111" stroke-width="1.3"/>
<line x1="524.3" y1="388.0" x2="524.3" y2="444.6" stroke="#111" stroke-width="1.3"/>
<line x1="552.7" y1="322.7" x2="552.7" y2="380.4" stroke="#111" stroke-width="1.3"/>
<line x1="552.7" y1="388.0" x2="552.7" y2="444.6" stroke="#111" stroke-width="1.3"/>
<text transform="translate(495.5,378.0) rotate(-90)" x="0" y="0" font-size="12.29" fill="#111" textLength="50.3" lengthAdjust="spacingAndGlyphs">0.0047</text>
<text transform="translate(495.5,430.6) rotate(-90)" x="0" y="0" font-size="12.29" fill="#111" textLength="35.1" lengthAdjust="spacingAndGlyphs">C303</text>
<text transform="translate(519.3,378.0) rotate(-90)" x="0" y="0" font-size="12.29" fill="#111" textLength="50.3" lengthAdjust="spacingAndGlyphs">0.0047</text>
<text transform="translate(519.3,430.6) rotate(-90)" x="0" y="0" font-size="12.29" fill="#111" textLength="35.1" lengthAdjust="spacingAndGlyphs">C302</text>
<text transform="translate(548.0,378.0) rotate(-90)" x="0" y="0" font-size="12.01" fill="#111" textLength="41.5" lengthAdjust="spacingAndGlyphs">0.056</text>
<text transform="translate(548.0,430.6) rotate(-90)" x="0" y="0" font-size="12.01" fill="#111" textLength="35.1" lengthAdjust="spacingAndGlyphs">C301</text>
<line x1="578.3" y1="322.7" x2="578.3" y2="337.0" stroke="#111" stroke-width="1.3"/>
<polyline points="578.3,337.0 581.8,339.3 574.8,343.9 581.8,348.4 574.8,353.0 581.8,357.5 574.8,362.1 578.3,364.4" fill="none" stroke="#111" stroke-width="1.4" stroke-linejoin="round"/>
<line x1="578.3" y1="364.4" x2="578.3" y2="399.0" stroke="#111" stroke-width="1.3"/>
<polyline points="578.3,399.0 581.8,401.3 574.8,406.0 581.8,410.7 574.8,415.3 581.8,420.0 574.8,424.7 578.3,427.0" fill="none" stroke="#111" stroke-width="1.4" stroke-linejoin="round"/>
<line x1="578.3" y1="427.0" x2="578.3" y2="444.6" stroke="#111" stroke-width="1.3"/>
<circle cx="578.3" cy="384.7" r="3.0" fill="#111"/>
<polyline points="578.3,384.7 596.3,384.7 596.3,286.3" fill="none" stroke="#111" stroke-width="1.3" stroke-linejoin="round"/>
<circle cx="596.3" cy="286.3" r="3.0" fill="#111"/>
<circle cx="616.8" cy="286.3" r="3.0" fill="#111"/>
<text transform="translate(568.0,371.7) rotate(-90)" x="0" y="0" font-size="11.87" fill="#111" textLength="37.7" lengthAdjust="spacingAndGlyphs">R303</text>
<text transform="translate(568.0,433.0) rotate(-90)" x="0" y="0" font-size="11.87" fill="#111" textLength="36.2" lengthAdjust="spacingAndGlyphs">R304</text>
<text transform="translate(597.0,372.7) rotate(-90)" x="0" y="0" font-size="14.80" fill="#111" textLength="37.7" lengthAdjust="spacingAndGlyphs">470K</text>
<text transform="translate(597.0,432.6) rotate(-90)" x="0" y="0" font-size="14.80" fill="#111" textLength="35.9" lengthAdjust="spacingAndGlyphs">470K</text>
<line x1="617.0" y1="286.3" x2="617.0" y2="411.7" stroke="#111" stroke-width="1.3"/>
<line x1="611.0" y1="411.7" x2="623.0" y2="411.7" stroke="#111" stroke-width="2.6"/>
<rect x="611.0" y="414.0" width="12.0" height="8.0" fill="#fff" stroke="#111" stroke-width="1.3"/>
<line x1="617.5" y1="422.0" x2="618.0" y2="501.6" stroke="#111" stroke-width="1.3"/>
<circle cx="618.0" cy="501.6" r="3.0" fill="#111"/>
<text transform="translate(641.8,435.6) rotate(-90)" x="0" y="0" font-size="14.66" fill="#111" textLength="37.6" lengthAdjust="spacingAndGlyphs">C304</text>
<text transform="translate(656.8,449.0) rotate(-90)" x="0" y="0" font-size="14.66" fill="#111" textLength="61.3" lengthAdjust="spacingAndGlyphs">4.7µ&#160;25V</text>
<ellipse cx="637.8" cy="286.1" rx="2.8" ry="5.4" fill="none" stroke="#111" stroke-width="1.4"/>
<ellipse cx="648" cy="286.1" rx="2.8" ry="5.4" fill="none" stroke="#111" stroke-width="1.4"/>
<text x="628.3" y="311.4" font-size="14.53" fill="#111" textLength="34.5" lengthAdjust="spacingAndGlyphs">L301</text>
<text x="628.0" y="326.3" font-size="12.43" fill="#111" textLength="43.7" lengthAdjust="spacingAndGlyphs">1.4 mH</text>
<circle cx="700.6" cy="286.0" r="10" fill="none" stroke="#111" stroke-width="1.5"/>
<circle cx="740.6" cy="286.0" r="10" fill="none" stroke="#111" stroke-width="1.5"/>
<text x="700.6" y="290.3" font-size="12" text-anchor="middle" fill="#333">9</text>
<text x="740.6" y="290.3" font-size="12" text-anchor="middle" fill="#333">9</text>
<line x1="750.6" y1="286.3" x2="769.0" y2="286.3" stroke="#111" stroke-width="1.3"/>
<path d="M698,295.8 L698,318 Q698,343 718.5,343 Q738.8,343 738.8,318 L738.8,295.8" fill="none" stroke="#111" stroke-width="1.4"/>
<text x="716.5" y="360.0" font-size="15.36" fill="#111">J</text>
<text x="297.8" y="591.8" font-size="18.44" fill="#111" stroke="#111" stroke-width="0.2" textLength="39.0" lengthAdjust="spacingAndGlyphs">REC</text>
<text x="347.7" y="591.8" font-size="18.44" fill="#111" stroke="#111" stroke-width="0.2" textLength="42.1" lengthAdjust="spacingAndGlyphs">AMP</text>
<text x="363.3" y="612.9" font-size="16.34" fill="#111" stroke="#111" stroke-width="0.2" textLength="25.7" lengthAdjust="spacingAndGlyphs">(R)</text>
<path d="M399.6,759.5 L399.6,572.5 L405,566 L399.6,559.5 L399.6,549.4 L741.8,549.4 L741.8,559.5 L736.3,565.9 L741.8,572.5 L741.8,641 L736.3,647.4 L741.8,654 L741.8,736.5 L736.3,743 L741.8,749.5 L741.8,759.5 Z" fill="none" stroke="#111" stroke-width="2.0" stroke-dasharray="95 3 60 3 130 4"/>
<line x1="396.0" y1="566.0" x2="454.0" y2="566.0" stroke="#111" stroke-width="1.3"/>
<circle cx="428.2" cy="566.0" r="3.0" fill="#111"/>
<path d="M454,566 L454,571 Q454,576.6 461,577 L461,656 Q461,662.5 454,663 Q452,667 448,667 L428.2,667" fill="none" stroke="#111" stroke-width="1.4"/>
<ellipse cx="454.8" cy="584.0" rx="6.3" ry="3.0" fill="none" stroke="#111" stroke-width="1.4"/>
<ellipse cx="454.8" cy="589.2" rx="6.3" ry="3.0" fill="none" stroke="#111" stroke-width="1.4"/>
<ellipse cx="454.8" cy="594.5" rx="6.3" ry="3.0" fill="none" stroke="#111" stroke-width="1.4"/>
<ellipse cx="454.8" cy="599.7" rx="6.3" ry="3.0" fill="none" stroke="#111" stroke-width="1.4"/>
<ellipse cx="454.8" cy="604.9" rx="6.3" ry="3.0" fill="none" stroke="#111" stroke-width="1.4"/>
<ellipse cx="454.8" cy="610.2" rx="6.3" ry="3.0" fill="none" stroke="#111" stroke-width="1.4"/>
<ellipse cx="454.8" cy="615.4" rx="6.3" ry="3.0" fill="none" stroke="#111" stroke-width="1.4"/>
<ellipse cx="454.8" cy="620.6" rx="6.3" ry="3.0" fill="none" stroke="#111" stroke-width="1.4"/>
<ellipse cx="454.8" cy="625.8" rx="6.3" ry="3.0" fill="none" stroke="#111" stroke-width="1.4"/>
<ellipse cx="454.8" cy="631.1" rx="6.3" ry="3.0" fill="none" stroke="#111" stroke-width="1.4"/>
<ellipse cx="454.8" cy="636.3" rx="6.3" ry="3.0" fill="none" stroke="#111" stroke-width="1.4"/>
<ellipse cx="454.8" cy="641.5" rx="6.3" ry="3.0" fill="none" stroke="#111" stroke-width="1.4"/>
<ellipse cx="454.8" cy="646.8" rx="6.3" ry="3.0" fill="none" stroke="#111" stroke-width="1.4"/>
<ellipse cx="454.8" cy="652.0" rx="6.3" ry="3.0" fill="none" stroke="#111" stroke-width="1.4"/>
<circle cx="428.2" cy="667.0" r="3.0" fill="#111"/>
<line x1="468.4" y1="575.0" x2="468.4" y2="660.0" stroke="#111" stroke-width="1.3"/>
<line x1="474.1" y1="575.0" x2="474.1" y2="660.0" stroke="#111" stroke-width="1.3"/>
<line x1="460.0" y1="618.2" x2="490.4" y2="618.2" stroke="#111" stroke-width="1.3"/>
<polygon points="461.0,618.2 466.0,615.4 466.0,621.0" fill="#111"/>
<circle cx="462.8" cy="674.7" r="7.2" fill="#111"/>
<line x1="458.5" y1="679.0" x2="467.1" y2="670.4" stroke="#fff" stroke-width="1.6"/>
<polyline points="490.4,618.2 492.6,614.1 497.0,622.3 501.4,614.1 505.8,622.3 510.2,614.1 514.6,622.3 516.8,618.2" fill="none" stroke="#111" stroke-width="1.4" stroke-linejoin="round"/>
<line x1="516.8" y1="618.2" x2="562.0" y2="618.2" stroke="#111" stroke-width="1.3"/>
<circle cx="529.8" cy="618.2" r="3.0" fill="#111"/>
<rect x="562.3" y="611.4" width="7.5" height="13.6" fill="#fff" stroke="#111" stroke-width="1.3"/>
<line x1="572.2" y1="611.4" x2="572.2" y2="625.0" stroke="#111" stroke-width="2.6"/>
<line x1="572.2" y1="618.2" x2="611.3" y2="618.2" stroke="#111" stroke-width="1.3"/>
<line x1="594.5" y1="627.0" x2="596.0" y2="618.2" stroke="#111" stroke-width="1.0"/>
<line x1="428.2" y1="566.0" x2="428.2" y2="612.7" stroke="#111" stroke-width="1.3"/>
<line x1="420.0" y1="612.7" x2="436.5" y2="612.7" stroke="#111" stroke-width="2.2"/>
<line x1="420.0" y1="620.7" x2="436.5" y2="620.7" stroke="#111" stroke-width="2.2"/>
<line x1="428.2" y1="620.7" x2="428.2" y2="699.8" stroke="#111" stroke-width="1.3"/>
<line x1="420.0" y1="699.8" x2="438.0" y2="699.8" stroke="#111" stroke-width="2.2"/>
<line x1="420.0" y1="709.8" x2="438.0" y2="709.8" stroke="#111" stroke-width="2.2"/>
<line x1="428.2" y1="709.8" x2="428.2" y2="743.0" stroke="#111" stroke-width="1.3"/>
<line x1="428.2" y1="743.0" x2="769.0" y2="743.0" stroke="#111" stroke-width="2.6"/>
<circle cx="529.8" cy="743.0" r="2.5" fill="#111"/>
<circle cx="570.2" cy="743.0" r="2.5" fill="#111"/>
<circle cx="611.3" cy="743.0" r="2.5" fill="#111"/>
<circle cx="672.5" cy="743.0" r="2.5" fill="#111"/>
<circle cx="712.4" cy="743.0" r="2.5" fill="#111"/>
<line x1="529.8" y1="618.2" x2="529.8" y2="663.9" stroke="#111" stroke-width="1.3"/>
<line x1="521.8" y1="663.9" x2="538.0" y2="663.9" stroke="#111" stroke-width="2.2"/>
<line x1="521.8" y1="672.1" x2="538.0" y2="672.1" stroke="#111" stroke-width="2.2"/>
<line x1="529.8" y1="672.1" x2="529.8" y2="743.0" stroke="#111" stroke-width="1.3"/>
<text transform="translate(417.6,635.7) rotate(-90)" x="0" y="0" font-size="13.97" fill="#111" textLength="36.3" lengthAdjust="spacingAndGlyphs">C221</text>
<text transform="translate(442.7,659.6) rotate(-90)" x="0" y="0" font-size="12.15" fill="#111" textLength="33.9" lengthAdjust="spacingAndGlyphs">L204</text>
<text transform="translate(518.0,687.2) rotate(-90)" x="0" y="0" font-size="13.97" fill="#111" textLength="38.9" lengthAdjust="spacingAndGlyphs">C220</text>
<text transform="translate(553.0,733.6) rotate(-90)" x="0" y="0" font-size="15.36" fill="#111" textLength="35.1" lengthAdjust="spacingAndGlyphs">L203</text>
<text x="484.0" y="608.5" font-size="14.66" fill="#111" textLength="37.8" lengthAdjust="spacingAndGlyphs">R233</text>
<text x="551.9" y="606.0" font-size="14.39" fill="#111" textLength="35.4" lengthAdjust="spacingAndGlyphs">C218</text>
<circle cx="620.5" cy="644.9" r="23.4" fill="none" stroke="#111" stroke-width="1.7"/>
<line x1="630.0" y1="633.5" x2="630.0" y2="658.6" stroke="#111" stroke-width="3.2"/>
<line x1="630.0" y1="638.5" x2="611.3" y2="618.6" stroke="#111" stroke-width="1.5"/>
<circle cx="611.3" cy="618.2" r="3.0" fill="#111"/>
<line x1="630.0" y1="652.0" x2="612.5" y2="664.5" stroke="#111" stroke-width="1.5"/>
<polygon points="612.0,665.0 615.0,659.1 618.5,663.5" fill="#111"/>
<line x1="611.3" y1="664.5" x2="611.3" y2="682.7" stroke="#111" stroke-width="1.5"/>
<circle cx="611.3" cy="682.7" r="3.0" fill="#111"/>
<line x1="630.0" y1="646.0" x2="688.0" y2="646.0" stroke="#111" stroke-width="1.3"/>
<circle cx="659.4" cy="646.0" r="3.0" fill="#111"/>
<circle cx="672.5" cy="646.0" r="3.0" fill="#111"/>
<rect x="690.0" y="639.4" width="7.5" height="13.2" fill="#fff" stroke="#111" stroke-width="1.3"/>
<line x1="687.5" y1="639.4" x2="687.5" y2="652.6" stroke="#111" stroke-width="2.6"/>
<line x1="697.0" y1="646.0" x2="736.0" y2="646.0" stroke="#111" stroke-width="1.3"/>
<line x1="741.8" y1="647.0" x2="769.0" y2="647.0" stroke="#111" stroke-width="1.3"/>
<line x1="611.4" y1="565.9" x2="736.0" y2="565.9" stroke="#777" stroke-width="1.3"/>
<line x1="741.8" y1="565.9" x2="769.0" y2="565.9" stroke="#777" stroke-width="1.3"/>
<line x1="611.4" y1="565.9" x2="611.4" y2="574.0" stroke="#111" stroke-width="1.3"/>
<polyline points="611.4,574.0 615.4,575.5 607.4,578.5 615.4,581.5 607.4,584.5 615.4,587.5 611.4,589.0" fill="none" stroke="#111" stroke-width="1.4" stroke-linejoin="round"/>
<line x1="611.4" y1="589.0" x2="611.4" y2="618.2" stroke="#111" stroke-width="1.3"/>
<circle cx="611.4" cy="605.3" r="3.0" fill="#111"/>
<line x1="611.4" y1="605.3" x2="624.0" y2="605.3" stroke="#111" stroke-width="1.3"/>
<polyline points="624.0,605.3 625.8,601.3 629.5,609.3 633.2,601.3 636.8,609.3 640.5,601.3 644.2,609.3 646.0,605.3" fill="none" stroke="#111" stroke-width="1.4" stroke-linejoin="round"/>
<line x1="646.0" y1="605.3" x2="659.4" y2="605.3" stroke="#111" stroke-width="1.3"/>
<circle cx="659.4" cy="605.3" r="3.0" fill="#111"/>
<polyline points="659.4,605.3 712.4,605.3 712.4,684.0" fill="none" stroke="#111" stroke-width="1.3" stroke-linejoin="round"/>
<line x1="706.4" y1="684.0" x2="718.4" y2="684.0" stroke="#111" stroke-width="2.6"/>
<rect x="706.4" y="686.0" width="12.0" height="8.4" fill="#fff" stroke="#111" stroke-width="1.3"/>
<line x1="712.4" y1="694.4" x2="712.4" y2="743.0" stroke="#111" stroke-width="1.3"/>
<polyline points="659.4,609.0 663.5,611.3 655.3,615.9 663.5,620.5 655.3,625.2 663.5,629.8 655.3,634.4 659.4,636.7" fill="none" stroke="#111" stroke-width="1.4" stroke-linejoin="round"/>
<line x1="659.4" y1="636.7" x2="659.4" y2="646.0" stroke="#111" stroke-width="1.3"/>
<line x1="672.5" y1="646.0" x2="672.5" y2="681.8" stroke="#111" stroke-width="1.3"/>
<polyline points="672.5,681.8 676.5,683.8 668.5,687.7 676.5,691.6 668.5,695.6 676.5,699.5 668.5,703.4 672.5,705.4" fill="none" stroke="#111" stroke-width="1.4" stroke-linejoin="round"/>
<line x1="672.5" y1="705.4" x2="672.5" y2="743.0" stroke="#111" stroke-width="1.3"/>
<polyline points="611.3,697.5 615.4,699.6 607.2,703.8 615.4,708.0 607.2,712.2 615.4,716.4 607.2,720.6 611.3,722.7" fill="none" stroke="#111" stroke-width="1.4" stroke-linejoin="round"/>
<line x1="611.3" y1="682.7" x2="611.3" y2="697.5" stroke="#111" stroke-width="1.3"/>
<line x1="611.3" y1="722.7" x2="611.3" y2="743.0" stroke="#111" stroke-width="1.3"/>
<line x1="611.3" y1="682.7" x2="593.0" y2="682.7" stroke="#111" stroke-width="1.3"/>
<line x1="593.0" y1="675.8" x2="593.0" y2="689.5" stroke="#111" stroke-width="2.2"/>
<line x1="586.2" y1="675.8" x2="586.2" y2="689.5" stroke="#111" stroke-width="2.2"/>
<polyline points="586.2,682.7 570.4,682.7" fill="none" stroke="#111" stroke-width="1.3" stroke-linejoin="round"/>
<path d="M570.4,682.7 L570.4,694.6 Q570.4,700.3 564.7,700.5 L564.7,724 Q564.7,727.5 570.4,727.7 L570.4,743" fill="none" stroke="#111" stroke-width="1.4"/>
<ellipse cx="571.0" cy="708.8" rx="5.4" ry="3.5" fill="none" stroke="#111" stroke-width="1.4"/>
<ellipse cx="571.0" cy="717.6" rx="5.4" ry="3.5" fill="none" stroke="#111" stroke-width="1.4"/>
<line x1="556.8" y1="696.0" x2="556.8" y2="730.0" stroke="#555" stroke-width="1.3"/>
<line x1="560.5" y1="696.0" x2="560.5" y2="730.0" stroke="#555" stroke-width="1.3"/>
<circle cx="560.2" cy="686.0" r="7.2" fill="#111"/>
<line x1="555.9" y1="690.3" x2="564.5" y2="681.7" stroke="#fff" stroke-width="1.6"/>
<text transform="translate(603.7,598.5) rotate(-90)" x="0" y="0" font-size="13.55" fill="#111" textLength="32.8" lengthAdjust="spacingAndGlyphs">R231</text>
<text x="622.8" y="595.7" font-size="15.22" fill="#111" textLength="38.2" lengthAdjust="spacingAndGlyphs">R230</text>
<text x="667.4" y="622.0" font-size="14.39" fill="#111" textLength="36.6" lengthAdjust="spacingAndGlyphs">R228</text>
<text x="673.0" y="638.0" font-size="14.39" fill="#111" textLength="34.4" lengthAdjust="spacingAndGlyphs">C216</text>
<text x="554.0" y="653.0" font-size="12.85" fill="#111" textLength="38.0" lengthAdjust="spacingAndGlyphs">Q205</text>
<text x="563.3" y="672.4" font-size="14.53" fill="#111" textLength="36.7" lengthAdjust="spacingAndGlyphs">C219</text>
<rect x="573.5" y="626.5" width="21.5" height="14.5" fill="none" stroke="#555" stroke-width="1"/>
<text x="577.0" y="638.8" font-size="14.39" fill="#111" textLength="15.0" lengthAdjust="spacingAndGlyphs">5V</text>
<rect x="574.5" y="693.5" width="32" height="14.5" fill="none" stroke="#555" stroke-width="1"/>
<text x="577.0" y="705.8" font-size="14.39" fill="#111" textLength="27.5" lengthAdjust="spacingAndGlyphs">0.5V</text>
<rect x="643.5" y="654" width="24" height="17" fill="none" stroke="#555" stroke-width="1"/>
<text x="646.0" y="668.0" font-size="15.36" fill="#111" textLength="19.0" lengthAdjust="spacingAndGlyphs">11V</text>
<text transform="translate(633.0,728.4) rotate(-90)" x="0" y="0" font-size="14.25" fill="#111" textLength="37.7" lengthAdjust="spacingAndGlyphs">R232</text>
<text transform="translate(664.0,714.7) rotate(-90)" x="0" y="0" font-size="14.39" fill="#111" textLength="36.7" lengthAdjust="spacingAndGlyphs">R229</text>
<text transform="translate(702.0,706.0) rotate(-90)" x="0" y="0" font-size="14.80" fill="#111" textLength="32.2" lengthAdjust="spacingAndGlyphs">C217</text>
</svg></body></html>
